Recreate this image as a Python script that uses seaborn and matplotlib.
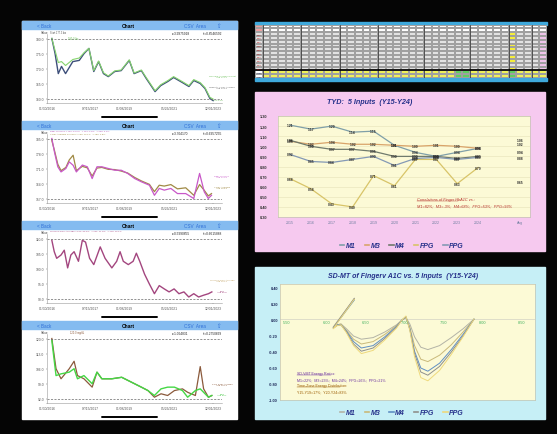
import numpy as np
import pandas as pd
import matplotlib
matplotlib.use("Agg")
import matplotlib.pyplot as plt
from matplotlib.colors import ListedColormap
from matplotlib.lines import Line2D
from matplotlib.patches import Rectangle
import seaborn as sns

plt.rcParams['font.family'] = ['Liberation Sans', 'DejaVu Sans']

# ---------------- phone screenshots (x = position along date axis, 0..100) ----------------
ph1_x = [0, 2, 4, 6, 8.5, 13, 17, 20, 23, 26, 29, 32, 35, 39, 43, 48, 51, 55.5, 58.5, 64,
         67.5, 72, 75.5, 81, 85, 88, 92, 95, 98, 100]
ph1_dark = [180, 175, 168.3, 170.7, 168.3, 172.3, 172.7, 175, 176.7, 169, 172.3, 168.3, 167.3, 169, 169.3,
            172.7, 168.3, 169.3, 166.7, 162.3, 164.3, 165.7, 167, 165.3, 164, 166, 165, 163.3, 160, 159.3]
ph1_green = [180, 176, 172, 172.3, 171, 173, 173.5, 175.3, 176.7, 169.3, 172.5, 168.6, 167.5, 169.2, 169.5,
             172.9, 168.5, 169.5, 167, 162.6, 164.6, 166, 167.3, 165.6, 164.3, 166.3, 165.3, 163.6, 160.4, 159.8]
ph1_ticks = [180.0, 175.0, 170.0, 165.0, 160.0]

ph2_x = [0, 1.6, 3.7, 5.7, 8.7, 10.8, 13.2, 15.2, 18.9, 22, 25, 28, 31, 35, 39, 43, 47, 51.4, 55.5, 60.5,
         63.6, 66.6, 69.7, 73.8, 77.9, 83, 88, 91.6, 94.5, 97, 99]
ph2_magenta = [185, 178.8, 171.8, 169.4, 171, 174.1, 172.5, 169.4, 172.6, 171.8, 166.3, 171.8, 171.8, 171,
               170.2, 170.2, 168.7, 166.3, 164.8, 163.2, 158.5, 161.7, 160.9, 161.7, 159.3, 159.3, 157,
               168.7, 160.1, 157, 158.5]
ph2_olive = [184, 179.5, 173, 170, 171.5, 175, 177.2, 170, 172, 171.3, 167.5, 171.2, 171.5, 170.6, 170.5,
             169.8, 168.9, 166.8, 165.2, 163.6, 160.2, 163.2, 162.8, 163.5, 161.5, 162, 158.5, 163.5,
             160.8, 158.2, 159.3]
ph2_ticks = [185.0, 178.0, 171.0, 164.0, 157.0]

ph3_x = [0, 1.5, 3, 5.7, 7.7, 9.8, 11.8, 13.8, 16.5, 18.9, 20.9, 23.4, 26, 30, 33, 37.2, 40.2, 42.3, 44.3,
         47.4, 50.4, 52.4, 54.5, 57.5, 60.5, 63.6, 66.6, 69.7, 72.7, 75.8, 78.8, 81.9, 84.9, 88, 91, 94.1,
         97.1, 99.2]
ph3_purple = [109.4, 105.6, 103.4, 104.5, 106.1, 100.2, 104.5, 105.6, 102.4, 109.4, 108.8, 103.4, 101.3,
              107.2, 103.4, 100.2, 102.4, 105.6, 102.4, 101.3, 102.4, 105.1, 102.4, 98.1, 94.8, 91.6, 94.3,
              93.2, 92.2, 93.2, 91.6, 92.2, 90.5, 91.6, 90.5, 91.1, 91.6, 92.2]
ph3_ticks = [110.0, 105.0, 100.0, 95.0, 90.0]

ph4_x = [0, 2.6, 5.7, 10.8, 13.8, 15.9, 19.9, 25, 28, 31, 37.2, 43.3, 49.4, 55.5, 59.6, 63.6, 67.7, 71.8,
         76, 81, 84.2, 89, 92, 94.1, 97.1, 99.2]
ph4_brown = [120, 105.9, 101.2, 105.9, 109.4, 102.7, 101.2, 97.3, 104.3, 101.2, 101.2, 101.9, 99.6, 97.3,
             95.7, 92.6, 94.2, 93.4, 95.7, 96.5, 94.9, 93.4, 106.9, 96.5, 92.6, 93.4]
ph4_green = [119, 102.7, 103.5, 104.3, 105.9, 101.2, 102.7, 98.9, 104.3, 101.2, 101.2, 101.9, 99.6, 97.3,
             95.7, 93.4, 96.5, 97.3, 97.3, 95.7, 92.6, 95.7, 96.5, 94.9, 92.6, 93.4]
ph4_ticks = [120.0, 113.0, 106.0, 99.0, 92.0]

date_pos = [-3, 24, 45, 73, 100]
date_labels = ['01/30/2016', '07/15/2017', '01/08/2019', '05/26/2021', '12/01/2023']
ph_stats = [('r=3.9975918', 'r\u00b2=0.8546592'), ('r=3.704170', 'r\u00b2=0.6957255'),
            ('r=0.5990855', 'r\u00b2=0.6615888'), ('r=1.064831', 'r\u00b2=0.2750669')]

# ---------------- TYD chart ----------------
tyd_years = ['2015', '2016', '2017', '2018', '2019', '2020', '2021', '2022', '2023', '2024']
tyd_names = ['M1', 'M3', 'M4', 'FPG', 'PPG']
tyd_m1 = [1.21, 1.17, 1.20, 1.14, 1.15, 1.01, 0.94, 0.90, 0.94, 0.98]
tyd_m3 = [1.05, 1.02, 1.04, 1.02, 1.02, 1.01, 1.00, 1.01, 1.00, 0.98]
tyd_m4 = [1.06, 1.00, 0.97, 0.97, 0.95, 0.90, 0.90, 0.90, 0.88, 0.90]
tyd_fpg = [0.68, 0.58, 0.43, 0.40, 0.71, 0.61, 0.87, 0.87, 0.63, 0.79]
tyd_ppg = [0.92, 0.85, 0.84, 0.87, 0.90, 0.81, 0.88, 0.89, 0.87, 0.89]
tyd_avg = [1.06, 1.02, 0.94, 0.65, 0.88]
tyd_yticks = [0.30, 0.40, 0.50, 0.60, 0.70, 0.80, 0.90, 1.00, 1.10, 1.20, 1.30]
tyd_colors = ['#7f9fa8', '#d9a46a', '#6f7a6c', '#d8c468', '#8499b5']

# ---------------- SD-MT chart ----------------
sd_x = [6.36, 6.09, 6.14, 6.19, 6.26, 6.35, 6.45, 6.60, 6.75, 6.90, 6.97, 7.02, 7.07, 7.13, 7.21, 7.30,
        7.45, 7.60, 7.75, 7.89]
sd_m1 = [0.26, -0.10, -0.07, -0.06, -0.12, -0.21, -0.25, -0.23, -0.16, -0.07, -0.01, 0.02, -0.06, -0.22,
         -0.35, -0.38, -0.33, -0.23, -0.12, 0.00]
sd_m3 = [0.25, -0.10, -0.07, -0.06, -0.14, -0.25, -0.31, -0.28, -0.19, -0.08, -0.01, 0.02, -0.10, -0.33,
         -0.50, -0.53, -0.45, -0.32, -0.16, 0.00]
sd_m4 = [0.24, -0.11, -0.07, -0.07, -0.15, -0.28, -0.36, -0.33, -0.22, -0.09, -0.01, 0.03, -0.12, -0.40,
         -0.61, -0.65, -0.55, -0.38, -0.19, 0.00]
sd_fpg = [0.26, -0.11, -0.08, -0.07, -0.16, -0.31, -0.40, -0.36, -0.24, -0.10, -0.01, 0.03, -0.13, -0.43,
          -0.66, -0.70, -0.59, -0.41, -0.21, 0.00]
sd_ppg = [0.25, -0.12, -0.08, -0.07, -0.17, -0.33, -0.43, -0.39, -0.26, -0.11, -0.01, 0.04, -0.14, -0.47,
          -0.73, -0.77, -0.64, -0.44, -0.22, 0.00]
sd_xticks = [5.50, 6.00, 6.50, 7.00, 7.50, 8.00, 8.50]
sd_yticks = [0.40, 0.20, 0.00, -0.20, -0.40, -0.60, -0.80, -1.00]
sd_colors = ['#b3b3a6', '#c9b97a', '#5f8fc4', '#8f8f8c', '#eed97c']

# ---------------- table (cell colour codes) ----------------
tbl_years = ['2015', '2016', '2017', '2018', '2019', '2020', '2021', '2022', '2023', '2024']
tbl_ncols = 38
tbl_hilite_rows = [0, 1, 3, 4, 6, 7, 9]
tbl_green_cols = [26, 27, 33]
tbl_group_edges = [1, 6, 11, 16, 22, 28, 33, 36]
tbl_colors = ['#ffffff', '#e2e2e2', '#f5ee3a', '#efc4ea', '#5fcf5f', '#eef05a', '#f0a0a0']

W, H = 557, 435
fig = plt.figure(figsize=(W / 100, H / 100), dpi=100, facecolor='#050505')


def px_axes(x0, y0, x1, y1):
    return fig.add_axes([x0 / W, 1 - y1 / H, (x1 - x0) / W, (y1 - y0) / H])


bg = px_axes(0, 0, W, H)
bg.set_xlim(0, W)
bg.set_ylim(H, 0)
bg.axis('off')

# left screenshot panel
bg.add_patch(Rectangle((22, 22), 215, 398, color='white'))
phones = [
    (ph1_x, [(ph1_dark, '#3d4f7a', 1.0), (ph1_green, '#86d46e', 0.8)], ph1_ticks),
    (ph2_x, [(ph2_olive, '#a08a45', 0.9), (ph2_magenta, '#c858c8', 0.9)], ph2_ticks),
    (ph3_x, [(ph3_purple, '#a3467f', 1.0)], ph3_ticks),
    (ph4_x, [(ph4_brown, '#8b5a3c', 0.9), (ph4_green, '#45d845', 1.0)], ph4_ticks),
]
for i, (xs, series, ticks) in enumerate(phones):
    y0 = 22 + 100 * i
    bg.add_patch(Rectangle((22, y0), 215, 8, color='#84bbf0'))
    bg.plot([102, 157], [y0 + 96, y0 + 96], color='black', lw=1.4, solid_capstyle='round')
    ax = px_axes(47, y0 + 13, 222, y0 + 82)
    ax.set_facecolor('none')
    top, bot = ticks[0], ticks[-1]
    pad = (top - bot) * 4.5 / 60
    for ys, c, lw in series:
        sns.lineplot(x=xs, y=ys, color=c, lw=lw, ax=ax)
    ax.axhline(top, ls=(0, (3, 2)), color='#666666', lw=0.5)
    ax.axhline(bot, ls=(0, (3, 2)), color='#666666', lw=0.5)
    ax.set_ylim(bot - pad, top + pad)
    ax.set_xlim(-1.2, 105.5)
    ax.set_yticks(ticks)
    ax.set_yticklabels([f'{t:.1f}' for t in ticks])
    ax.set_xticks(date_pos)
    ax.set_xticklabels(date_labels)
    ax.tick_params(labelsize=2.4, colors='#555555', length=1, width=0.3, pad=1)
    ax.set_xlabel('')
    ax.set_ylabel('')
    for s in ['top', 'right']:
        ax.spines[s].set_visible(False)
    for s in ['left', 'bottom']:
        ax.spines[s].set_color('#9a9a9a')
        ax.spines[s].set_linewidth(0.4)

# table
bg.add_patch(Rectangle((255, 22.5), 292, 3, color='#3fa9dc'))
bg.add_patch(Rectangle((255, 79), 292, 3, color='#3fa9dc'))
codes = np.ones((14, tbl_ncols))
codes[0:2, :] = 0
codes[0:2, 0] = 6
codes[2:12, 37] = 3
for r in tbl_hilite_rows:
    codes[2 + r, 33] = 2
codes[12:14, :] = 5
codes[12:14, 0] = 0
for c in tbl_green_cols:
    codes[12:14, c] = 4
tax = px_axes(255, 25.5, 547, 79)
sns.heatmap(codes, cmap=ListedColormap(tbl_colors), vmin=-0.5, vmax=len(tbl_colors) - 0.5, cbar=False,
            linewidths=0.25, linecolor='#a0a0a0', xticklabels=False, yticklabels=False, ax=tax)
for r, yr in enumerate(tbl_years):
    tax.text(0.5, 2.5 + r, yr, fontsize=1.5, color='#c00000', ha='center', va='center')
for r in (12, 13):
    tax.text(0.5, r + 0.5, 'Avg', fontsize=1.5, color='#1f2a7a', ha='center', va='center')
for c in tbl_group_edges:
    tax.axvline(c, color='#303030', lw=0.5)
tax.axhline(12, color='black', lw=1.2)

# TYD chart
bg.add_patch(Rectangle((255, 93), 290, 159, color='#f6c9ef'))
pk = px_axes(278, 117, 530, 218)
pk.set_facecolor('#fcfad6')
tyd_df = pd.DataFrame({
    'pos': list(range(10)) * 5,
    'value': tyd_m1 + tyd_m3 + tyd_m4 + tyd_fpg + tyd_ppg,
    'series': [n for n in tyd_names for _ in range(10)],
})
sns.lineplot(data=tyd_df, x='pos', y='value', hue='series', hue_order=tyd_names,
             palette=tyd_colors, lw=0.9, legend=False, ax=pk)
for vals in [tyd_m1, tyd_m3, tyd_m4, tyd_fpg, tyd_ppg]:
    for j, v in enumerate(vals):
        pk.text(j, v, f'{v:.2f}', fontsize=2.4, fontweight='bold', color='#2a2a2a', ha='center', va='center')
for v in tyd_avg:
    pk.text(11, v, f'{v:.2f}', fontsize=2.4, fontweight='bold', color='#2a2a2a', ha='center', va='center')
pk.set_xlim(-0.57, 11.48)
pk.set_ylim(0.30, 1.30)
pk.set_xticks(range(12))
pk.set_xticklabels(tyd_years + ['', 'Avg'])
pk.set_yticks(tyd_yticks)
pk.set_yticklabels([f'{t:.2f}' for t in tyd_yticks])
pk.yaxis.grid(True, color='#e6e1b8', lw=0.4)
pk.set_axisbelow(True)
pk.tick_params(axis='y', length=0, labelsize=2.8, pad=8, labelcolor='#333333')
pk.tick_params(axis='x', length=0, labelsize=2.6, pad=2, labelcolor='#6f7fa0')
for lab in pk.get_yticklabels():
    lab.set_fontweight('bold')
pk.set_xlabel('')
pk.set_ylabel('')
for s in pk.spines.values():
    s.set_color('#c4c4b0')
    s.set_linewidth(0.5)
pk.text(0.55, 0.17, 'Correlations of Finger HbA1C vs.:', transform=pk.transAxes, fontsize=2.8,
        style='italic', color='#b5302a')
pk.plot([0.55, 0.715], [0.158, 0.158], transform=pk.transAxes, color='#b5302a', lw=0.3)
pk.text(0.55, 0.10, 'M1=82%;  M3=-3%;  M4=68%;  FPG=53%;  PPG=93%', transform=pk.transAxes,
        fontsize=2.8, style='italic', color='#b5302a')

# SD-MT chart
bg.add_patch(Rectangle((255, 268), 290, 152, color='#c6eff6'))
cy = px_axes(280, 285, 535, 401)
cy.set_facecolor('#fcfad6')
sd_df = pd.DataFrame({
    'a1c': sd_x * 5,
    'sd': sd_m1 + sd_m3 + sd_m4 + sd_fpg + sd_ppg,
    'series': [n for n in tyd_names for _ in range(len(sd_x))],
})
sns.lineplot(data=sd_df, x='a1c', y='sd', hue='series', hue_order=tyd_names, palette=sd_colors,
             sort=False, estimator=None, lw=0.7, legend=False, ax=cy)
cy.axhline(0, color='#c8c8c0', lw=0.4, zorder=0)
cy.set_xlim(5.41, 8.67)
cy.set_ylim(-1.01, 0.44)
cy.set_xticks([])
cy.set_yticks(sd_yticks)
cy.set_yticklabels([f'{t:.2f}' for t in sd_yticks])
cy.tick_params(axis='y', length=0, labelsize=2.8, pad=1.5, labelcolor='#1f2a5a')
for lab in cy.get_yticklabels():
    lab.set_fontweight('bold')
for v in sd_xticks:
    cy.text(v, -0.035, f'{v:.2f}', fontsize=2.8, color='#3cae5a', ha='center', va='center')
cy.set_xlabel('')
cy.set_ylabel('')
for s in cy.spines.values():
    s.set_color('#c4c4b0')
    s.set_linewidth(0.5)
cy.text(0.067, 0.225, 'SD-VMT Energy Ratios:', transform=cy.transAxes, fontsize=2.6, color='#6a2fa0')
cy.plot([0.067, 0.2], [0.215, 0.215], transform=cy.transAxes, color='#6a2fa0', lw=0.3)
cy.text(0.067, 0.165, 'M1=22%;  M3=23%;  M4=24%;  FPG=26%;  PPG=21%', transform=cy.transAxes,
        fontsize=2.6, color='#6a2fa0')
cy.text(0.067, 0.118, 'Time-Zone Energy Distribution:', transform=cy.transAxes, fontsize=2.6,
        color='#9a5a00')
cy.plot([0.067, 0.235], [0.108, 0.108], transform=cy.transAxes, color='#9a5a00', lw=0.3)
cy.text(0.067, 0.068, 'Y15-Y19=17%;  Y20-Y24=83%', transform=cy.transAxes, fontsize=2.6, color='#9a5a00')

# overlay texts (pixel coordinates)
ov = px_axes(0, 0, W, H)
ov.set_xlim(0, W)
ov.set_ylim(H, 0)
ov.axis('off')
for i in range(4):
    y0 = 22 + 100 * i
    ov.text(37, y0 + 4.3, '< Back', fontsize=3.3, color='#2f6fd6', va='center')
    ov.text(128, y0 + 4.3, 'Chart', fontsize=3.6, fontweight='bold', color='black', ha='center', va='center')
    ov.text(184, y0 + 4.3, 'CSV  Area', fontsize=3.3, color='#2f6fd6', va='center')
    ov.text(218, y0 + 4.3, '\u21e7', fontsize=4, color='#2f6fd6', ha='center', va='center')
    ov.text(41, y0 + 11.5, 'Value', fontsize=2.2, color='#444444', va='center')
    ov.text(172, y0 + 12, ph_stats[i][0], fontsize=2.3, color='#222222', va='center')
    ov.text(203, y0 + 12, ph_stats[i][1], fontsize=2.3, color='#222222', va='center')
ov.text(50, 34, 'Start 177.3 lbs', fontsize=1.8, color='#555555')
ov.text(68, 40.5, '180.0 lbs', fontsize=1.8, color='#6cbf5a')
ov.text(222, 78, 'Running Average Weight\nAvg 170.4', fontsize=1.7, color='#6cbf5a', ha='center')
ov.text(222, 89, 'Weight + 7-day Average\nAvg 172.2', fontsize=1.7, color='#666666', ha='center')
ov.text(218, 101, '164.5 lbs', fontsize=1.7, color='#6cbf5a', ha='center')
ov.text(50, 132, 'Daily Glucose > 160: 13.2%   > 180: 5.6%   > 200: 2.1%', fontsize=1.7, color='#b050b0')
ov.text(50, 135, '7-Day Average Glucose > 160: 12.1%   > 180: 4.8%', fontsize=1.7, color='#a08a45')
ov.text(222, 178, 'Daily Glucose\nAvg 171.6', fontsize=1.7, color='#c858c8', ha='center')
ov.text(222, 189, '7-Day Average\nAvg 168.9', fontsize=1.7, color='#a08a45', ha='center')
ov.text(50, 232, 'Glucose Daily Average > 100: 62.5%   > 105: 41.6%   > 110: 12.5%', fontsize=1.7,
        color='#a3467f')
ov.text(222, 282, 'Glucose Daily Average\nAvg 100.4', fontsize=1.7, color='#c0a060', ha='center')
ov.text(222, 293, 'FPG\nAvg 98.8', fontsize=1.7, color='#a3467f', ha='center')
ov.text(70, 334, '120.0 mg/dL', fontsize=1.8, color='#8b5a3c')
ov.text(222, 386, 'PPG Daily Average\nAvg 101.3', fontsize=1.7, color='#8b5a3c', ha='center')
ov.text(222, 396, 'PPG\nAvg 99.1', fontsize=1.7, color='#45c845', ha='center')

ov.text(370, 103, 'TYD:  5 Inputs  (Y15-Y24)', fontsize=5.2, fontweight='bold', style='italic',
        color='#25308a', ha='center', va='center')
ov.text(403, 277, 'SD-MT of Fingerv A1C vs. 5 Inputs  (Y15-Y24)', fontsize=5.0, fontweight='bold',
        style='italic', color='#25308a', ha='center', va='center')

for colors, ycen in [(tyd_colors, 247), (sd_colors, 414)]:
    handles = [Line2D([], [], color=c, lw=1.2) for c in colors]
    fig.legend(handles, tyd_names, loc='center', bbox_to_anchor=(402 / W, 1 - ycen / H), ncol=5,
               frameon=False, prop=dict(size=5, weight='bold', style='italic'), labelcolor='#25308a',
               handlelength=0.6, handletextpad=0.25, columnspacing=1.3, borderpad=0)

fig.savefig('out.png', dpi=100, facecolor=fig.get_facecolor())
